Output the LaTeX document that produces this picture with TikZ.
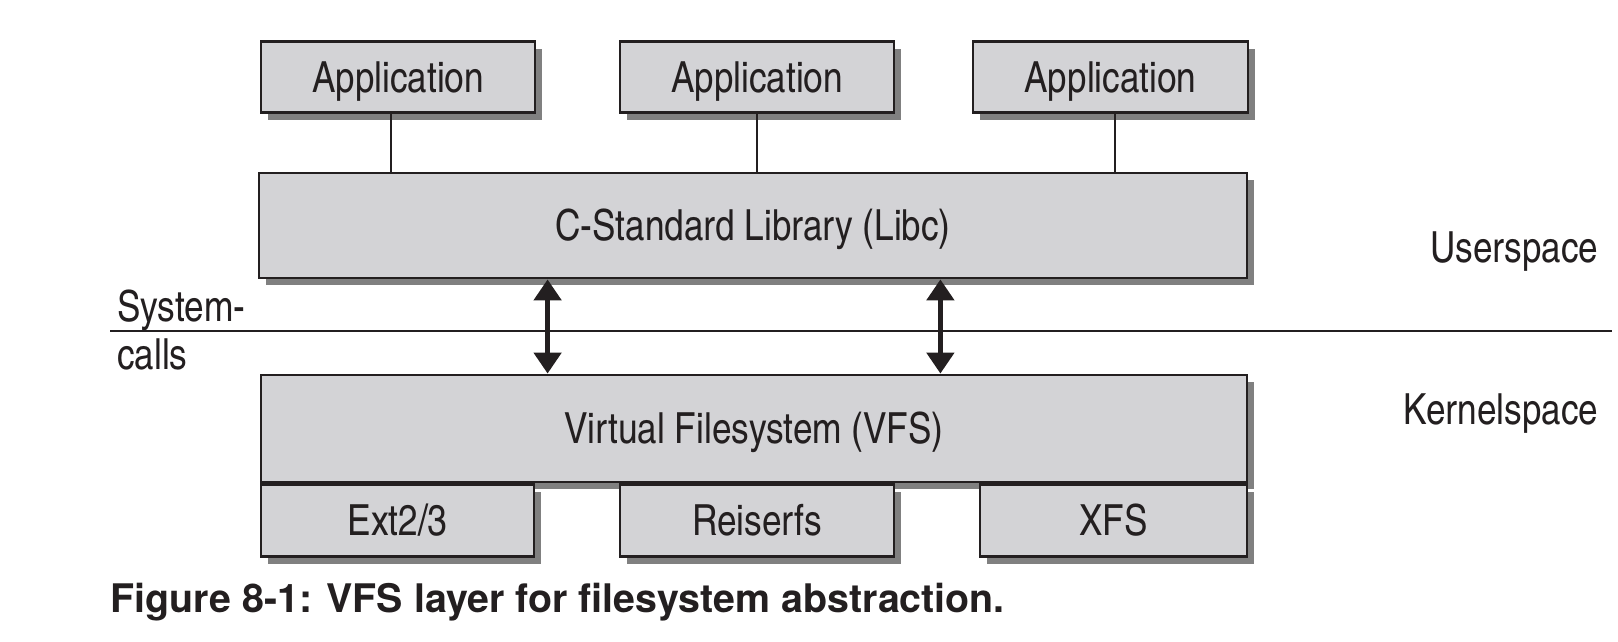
\documentclass[tikz,border=0pt]{standalone}
\usepackage{fontspec}
\setmainfont{texgyreheroscn}[Extension=.otf, UprightFont=*-regular, BoldFont=*-bold]
\newfontfamily\captionfont{texgyreheros}[Extension=.otf, UprightFont=*-bold]
\usepackage{xcolor}
\usepackage{tikz}
\usetikzlibrary{arrows.meta,shadows,positioning}
\definecolor{boxgray}{RGB}{211,211,214}
\definecolor{shadegray}{RGB}{128,128,128}
\definecolor{inkblack}{RGB}{35,31,32}

\begin{document}
\begin{tikzpicture}[
    box/.style={draw=inkblack, line width=0.8pt, fill=boxgray, inner sep=0pt, text=inkblack,
        font=\fontsize{12.2}{14}\selectfont, text height=1.65ex, text depth=0pt,
        drop shadow={shadow xshift=0.07cm, shadow yshift=-0.07cm, fill=shadegray, opacity=1}},
    link/.style={draw=inkblack, line width=0.6pt},
    dblarrow/.style={{Triangle[width=0.27cm,length=0.21cm]}-{Triangle[width=0.27cm,length=0.21cm]}, line width=1.4pt, draw=inkblack},
    side/.style={inner sep=0pt, text=inkblack, font=\fontsize{12.2}{13.4}\selectfont}
]
    \useasboundingbox (0,0) rectangle (16.18,-6.42);

    % userspace
    \node[box, minimum width=2.74cm, minimum height=0.71cm] (app1) at (3.98,-0.772) {Application};
    \node[box, minimum width=2.74cm, minimum height=0.71cm] (app2) at (7.57,-0.772) {Application};
    \node[box, minimum width=2.75cm, minimum height=0.71cm] (app3) at (11.105,-0.772) {Application};
    \node[box, minimum width=9.88cm, minimum height=1.05cm] (libc) at (7.53,-2.255) {C-Standard Library (Libc)};

    \draw[link] ([xshift=-0.07cm]app1.south) -- ([xshift=-0.07cm]app1.south |- libc.north);
    \draw[link] (app2.south) -- (app2.south |- libc.north);
    \draw[link] ([xshift=0.045cm]app3.south) -- ([xshift=0.045cm]app3.south |- libc.north);

    % kernelspace
    \node[box, minimum width=9.86cm, minimum height=1.07cm] (vfs) at (7.54,-4.285) {Virtual Filesystem (VFS)};
    \node[box, minimum width=2.73cm, minimum height=0.72cm, anchor=north west] (ext) at (vfs.south west) {Ext2/3};
    \node[box, minimum width=2.74cm, minimum height=0.72cm, anchor=north] (reiser) at (app2.south |- vfs.south) {Reiserfs};
    \node[box, minimum width=2.67cm, minimum height=0.72cm, anchor=north east] (xfs) at (vfs.south east) {XFS};

    % system calls
    \coordinate (sepl) at (1.10,-3.31);
    \coordinate (sepr) at (16.12,-3.31);
    \draw[link] (sepl) -- (sepr);
    \coordinate (call1) at ([xshift=2.90cm]libc.south west);
    \coordinate (call2) at ([xshift=-3.08cm]libc.south east);
    \draw[dblarrow] (call1) -- (call1 |- vfs.north);
    \draw[dblarrow] (call2) -- (call2 |- vfs.north);

    \node[side, anchor=west, align=left] (syscalls) at (1.165,-3.30) {System-\\calls};
    \node[side, anchor=east] (user) at (15.99,-2.52) {Userspace};
    \node[side, anchor=east] (kernel) at (15.99,-4.14) {Kernelspace};

    \node[anchor=west, inner sep=0pt, text=inkblack, font=\captionfont\fontsize{11.2}{13}\selectfont] (caption) at (1.10,-6.02) {Figure 8-1: VFS layer for filesystem abstraction.};
\end{tikzpicture}
\end{document}
